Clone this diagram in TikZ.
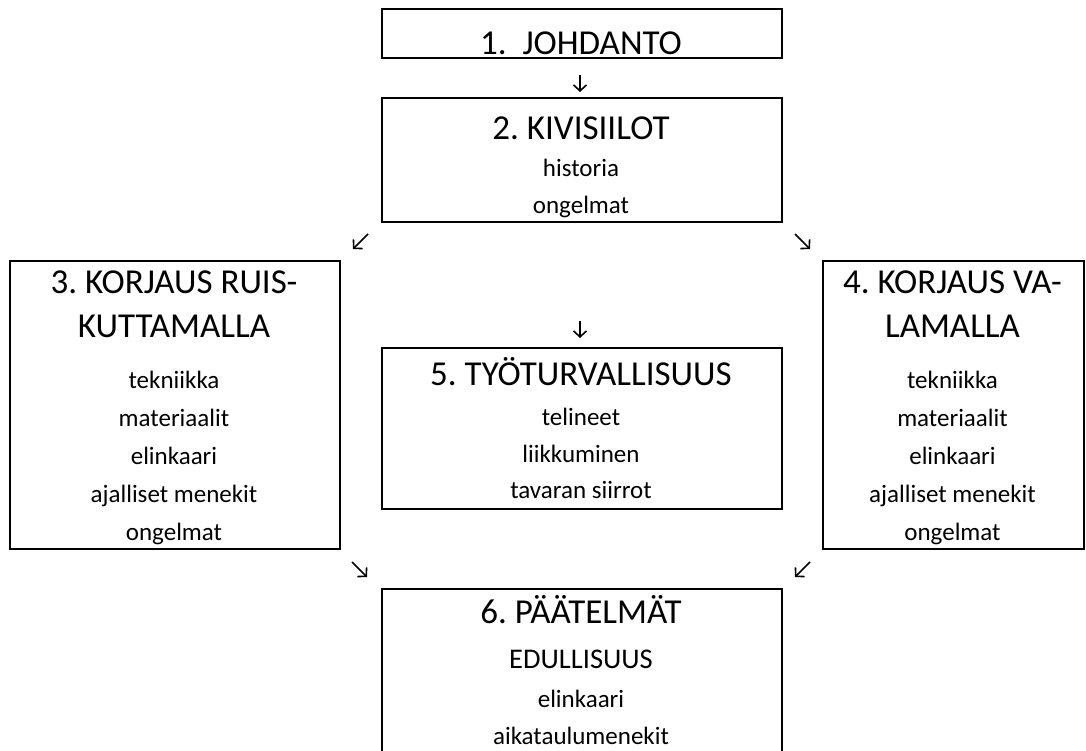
\documentclass[tikz,border=0pt]{standalone}
\usepackage{fontspec}
\setmainfont{Carlito}
\usetikzlibrary{arrows.meta}
\frenchspacing
\begin{document}
\begin{tikzpicture}[x=1pt,y=-1pt,
  box/.style={draw,line width=1.8pt,inner sep=0pt,anchor=north west},
  ttl/.style={font=\fontsize{35}{40}\selectfont,anchor=base,inner sep=0pt},
  mid/.style={font=\fontsize{28.5}{34}\selectfont,anchor=base,inner sep=0pt},
  itm/.style={font=\fontsize{25}{30}\selectfont,anchor=base,inner sep=0pt},
  arr/.style={-{Straight Barb[length=6pt,width=13pt,line width=1.6pt]},line width=1.6pt}]
  \useasboundingbox (0,0) rectangle (1086,750);
  \clip (0,0) rectangle (1086,750);
  % 1 intro
  \node[box,minimum width=400pt,minimum height=49pt] (johdanto) at (381,8) {};
  \node[ttl] (johdanto-t) at (581,54) {1.~~JOHDANTO};
  % 2 silos
  \node[box,minimum width=400pt,minimum height=124pt] (siilot) at (381,97) {};
  \node[ttl] (siilot-t) at (581,139) {2. KIVISIILOT};
  \node[itm] (siilot-1) at (581,176) {historia};
  \node[itm] (siilot-2) at (581,213) {ongelmat};
  % 3 spraying
  \node[box,minimum width=330pt,minimum height=288pt] (ruisku) at (9,260) {};
  \node[ttl] (ruisku-t) at (174,293.5) {3. KORJAUS RUIS-};
  \node[ttl] (ruisku-t2) at (174,337) {KUTTAMALLA};
  \foreach \t [count=\i from 0] in {tekniikka,materiaalit,elinkaari,ajalliset menekit,ongelmat}
    \node[itm] (ruisku-\i) at (174,388+38*\i) {\t};
  % 4 casting
  \node[box,minimum width=261pt,minimum height=288pt] (valu) at (822,260) {};
  \node[ttl] (valu-t) at (952.5,293.5) {4. KORJAUS VA-};
  \node[ttl] (valu-t2) at (952.5,337) {LAMALLA};
  \foreach \t [count=\i from 0] in {tekniikka,materiaalit,elinkaari,ajalliset menekit,ongelmat}
    \node[itm] (valu-\i) at (952.5,388+38*\i) {\t};
  % 5 safety
  \node[box,minimum width=400pt,minimum height=161pt] (turva) at (381,347) {};
  \node[ttl] (turva-t) at (581,385) {5. TYÖTURVALLISUUS};
  \foreach \t [count=\i from 0] in {telineet,liikkuminen,tavaran siirrot}
    \node[itm] (turva-\i) at (581,425.5+36.5*\i) {\t};
  % 6 conclusions
  \node[box,minimum width=400pt,minimum height=200pt] (paatelmat) at (381,588) {};
  \node[ttl] (paatelmat-t) at (581,623.5) {6. PÄÄTELMÄT};
  \node[mid] (paatelmat-m) at (581,668) {EDULLISUUS};
  \node[itm] (paatelmat-1) at (581,707) {elinkaari};
  \node[itm] (paatelmat-2) at (581,744) {aikataulumenekit};
  % small arrows
  \coordinate (a1) at (580,75);  \coordinate (a1e) at (580,92);
  \coordinate (a2) at (368,234); \coordinate (a2e) at (353,249);
  \coordinate (a3) at (795,234); \coordinate (a3e) at (810,249);
  \coordinate (a4) at (580,321); \coordinate (a4e) at (580,338);
  \coordinate (a5) at (352,562); \coordinate (a5e) at (367,577);
  \coordinate (a6) at (810,562); \coordinate (a6e) at (795,577);
  \foreach \a in {a1,a2,a3,a4,a5,a6}
    \draw[arr] (\a) -- (\a e);
\end{tikzpicture}
\end{document}
